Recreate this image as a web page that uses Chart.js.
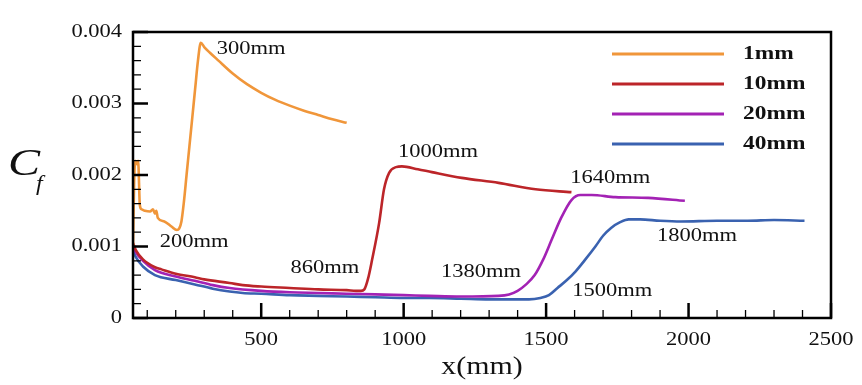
<!DOCTYPE html>
<html>
<head>
<meta charset="utf-8">
<script src="https://cdn.jsdelivr.net/npm/chart.js@4.4.1/dist/chart.umd.min.js"></script>
<style>
  html, body { margin: 0; padding: 0; background: #fff; }
  #wrap { width: 862px; height: 385px; position: relative; }
</style>
</head>
<body>
<div id="wrap"><canvas id="cfChart"></canvas></div>
<script>
// Series: x in mm, Cf
const seriesLabels = ['1mm', '10mm', '20mm', '40mm'];

const x1mm = [50, 54, 58, 64, 68, 74, 80, 92, 110, 120, 127, 132, 137, 160, 185, 204, 212, 220, 228, 238, 248, 258, 268, 278, 288, 300, 320, 350, 400, 450, 500, 550, 600, 650, 700, 750, 800];
const cf1mm = [0.0010, 0.0019, 0.0022, 0.00215, 0.0022, 0.00158, 0.00152, 0.0015, 0.00149, 0.00152, 0.00146, 0.0015, 0.0014, 0.00135, 0.00128, 0.00123, 0.00125, 0.00135, 0.0016, 0.002, 0.0024, 0.0028, 0.0032, 0.0036, 0.00385, 0.00379, 0.00371, 0.0036, 0.00342, 0.00327, 0.00315, 0.00305, 0.00297, 0.0029, 0.00284, 0.00278, 0.00273];

const x10mm = [50, 60, 85, 127, 150, 200, 267, 300, 389, 435, 500, 600, 700, 800, 833, 850, 862, 875, 889, 914, 931, 949, 973, 994, 1050, 1099, 1204, 1333, 1463, 1589];
const cf10mm = [0.00105, 0.00095, 0.00082, 0.00071, 0.00068, 0.00062, 0.00057, 0.00054, 0.00049, 0.00046, 0.00044, 0.00042, 0.0004, 0.00039, 0.00038, 0.00038, 0.0004, 0.00055, 0.00081, 0.00133, 0.0018, 0.00203, 0.00211, 0.00212, 0.00208, 0.00204, 0.00196, 0.00189, 0.0018, 0.00176];

const x20mm = [50, 60, 85, 127, 200, 267, 330, 389, 500, 600, 700, 800, 900, 1000, 1089, 1200, 1333, 1370, 1400, 1430, 1460, 1490, 1519, 1554, 1589, 1620, 1660, 1743, 1858, 1987];
const cf20mm = [0.001, 0.00092, 0.0008, 0.00067, 0.00058, 0.00052, 0.00046, 0.00042, 0.00038, 0.00036, 0.00035, 0.00034, 0.00033, 0.00032, 0.00031, 0.0003, 0.00031, 0.00033, 0.00038, 0.00047, 0.0006, 0.00082, 0.00109, 0.00141, 0.00165, 0.00172, 0.00172, 0.00169, 0.00168, 0.00164];

const x40mm = [50, 60, 85, 127, 200, 267, 330, 389, 435, 500, 600, 700, 800, 900, 1000, 1089, 1200, 1300, 1400, 1440, 1480, 1510, 1540, 1570, 1603, 1640, 1673, 1700, 1728, 1760, 1790, 1830, 1900, 1973, 2100, 2208, 2300, 2407];
const cf40mm = [0.00095, 0.00085, 0.00072, 0.0006, 0.00053, 0.00047, 0.00041, 0.00037, 0.00035, 0.00034, 0.00032, 0.00031, 0.0003, 0.00029, 0.00028, 0.00028, 0.00027, 0.00026, 0.00026, 0.00026, 0.00028, 0.00032, 0.00042, 0.00052, 0.00065, 0.00083, 0.001, 0.00115, 0.00126, 0.00134, 0.00138, 0.00138, 0.00136, 0.00135, 0.00136, 0.00136, 0.00137, 0.00136];

const xTicks = [500, 1000, 1500, 2000, 2500];
const yTicks = [0, 0.001, 0.002, 0.003, 0.004];

// Point labels on the curves
const noteText = ['300mm', '200mm', '860mm', '1000mm', '1640mm', '1380mm', '1800mm', '1500mm'];
const noteX = [344, 144, 603, 980, 1585, 1131, 1889, 1592];
const noteY = [0.00376, 0.00106, 0.0007, 0.00232, 0.00196, 0.00064, 0.00115, 0.00038];

const colors = ['#F0963A', '#BC2529', '#A322B4', '#3A62B0'];
const SERIF = '"Liberation Serif", "Times New Roman", serif';
const SX = 1.25; // the figure's text is stretched sideways

function toPoints(xs, ys) {
    return xs.map((x, i) => ({ x: x, y: ys[i] }));
}

function stretchedText(ctx, text, x, y, font, align, sx) {
    ctx.save();
    ctx.font = font;
    ctx.textAlign = align;
    ctx.textBaseline = 'middle';
    ctx.fillStyle = '#111';
    ctx.translate(x, y);
    ctx.scale(sx, 1);
    ctx.fillText(text, 0, 0);
    ctx.restore();
}

// frame, inward ticks, tick labels, titles, legend and notes
const decorations = {
    id: 'decorations',
    afterDatasetsDraw(chart) {
        const ctx = chart.ctx;
        const area = chart.chartArea;
        const xs = chart.scales.x;
        const ys = chart.scales.y;

        ctx.save();
        ctx.strokeStyle = '#000';

        // minor ticks
        ctx.lineWidth = 1.3;
        ctx.beginPath();
        for (let v = 100; v < 2500; v += 100) {
            if (v % 500 === 0) continue;
            const px = xs.getPixelForValue(v);
            ctx.moveTo(px, area.bottom);
            ctx.lineTo(px, area.bottom - 8);
        }
        for (let k = 1; k < 20; k++) {
            if (k % 5 === 0) continue;
            const py = ys.getPixelForValue(k * 0.0002);
            ctx.moveTo(area.left, py);
            ctx.lineTo(area.left + 8, py);
        }
        ctx.stroke();

        // major ticks
        ctx.lineWidth = 2.5;
        ctx.beginPath();
        xTicks.forEach(v => {
            const px = xs.getPixelForValue(v);
            ctx.moveTo(px, area.bottom);
            ctx.lineTo(px, area.bottom - 15);
        });
        yTicks.forEach(v => {
            const py = ys.getPixelForValue(v);
            ctx.moveTo(area.left, py);
            ctx.lineTo(area.left + 15, py);
        });
        ctx.stroke();

        // frame
        ctx.lineWidth = 2.5;
        ctx.strokeRect(area.left, area.top, area.right - area.left, area.bottom - area.top);
        ctx.restore();

        // tick labels
        const tickFont = '18px ' + SERIF;
        xTicks.forEach(v => {
            stretchedText(ctx, String(v), xs.getPixelForValue(v), area.bottom + 22, tickFont, 'center', SX);
        });
        yTicks.forEach(v => {
            const label = v === 0 ? '0' : v.toFixed(3);
            stretchedText(ctx, label, area.left - 11, ys.getPixelForValue(v), tickFont, 'right', SX);
        });

        // axis titles
        stretchedText(ctx, 'x(mm)', (area.left + area.right) / 2, 367, '26px ' + SERIF, 'center', 1.15);
        stretchedText(ctx, 'C', 8, 165, 'italic 37px ' + SERIF, 'left', 1.3);
        stretchedText(ctx, 'f', 36, 185, 'italic 20px ' + SERIF, 'left', 1.2);

        // notes on curves
        noteText.forEach((t, i) => {
            stretchedText(ctx, t, xs.getPixelForValue(noteX[i]), ys.getPixelForValue(noteY[i]), '18px ' + SERIF, 'left', SX);
        });

        // legend
        chart.data.datasets.forEach((ds, i) => {
            const y = 54 + i * 30;
            ctx.save();
            ctx.strokeStyle = ds.borderColor;
            ctx.lineWidth = 3;
            ctx.beginPath();
            ctx.moveTo(612, y);
            ctx.lineTo(724, y);
            ctx.stroke();
            ctx.restore();
            stretchedText(ctx, ds.label, 743, y, 'bold 18px ' + SERIF, 'left', 1.3);
        });
    }
};

const seriesX = [x1mm, x10mm, x20mm, x40mm];
const seriesY = [cf1mm, cf10mm, cf20mm, cf40mm];

const datasets = seriesLabels.map((label, i) => ({
    label: label,
    data: toPoints(seriesX[i], seriesY[i]),
    borderColor: colors[i],
    backgroundColor: colors[i],
    borderWidth: 2.6,
    pointRadius: 0,
    fill: false,
    cubicInterpolationMode: 'monotone'
}));

const ctx = document.getElementById('cfChart').getContext('2d');
new Chart(ctx, {
    type: 'line',
    data: { datasets: datasets },
    options: {
        responsive: true,
        maintainAspectRatio: false,
        animation: false,
        layout: { padding: { top: 32, right: 31, left: 0, bottom: 0 } },
        scales: {
            x: {
                type: 'linear',
                min: 50,
                max: 2500,
                grid: { display: false, drawTicks: false },
                border: { display: false },
                ticks: { display: false },
                afterFit: s => { s.height = 67; }
            },
            y: {
                type: 'linear',
                min: 0,
                max: 0.004,
                grid: { display: false, drawTicks: false },
                border: { display: false },
                ticks: { display: false },
                afterFit: s => { s.width = 133; }
            }
        },
        plugins: {
            legend: { display: false },
            tooltip: { enabled: false }
        }
    },
    plugins: [decorations]
});
</script>
</body>
</html>
